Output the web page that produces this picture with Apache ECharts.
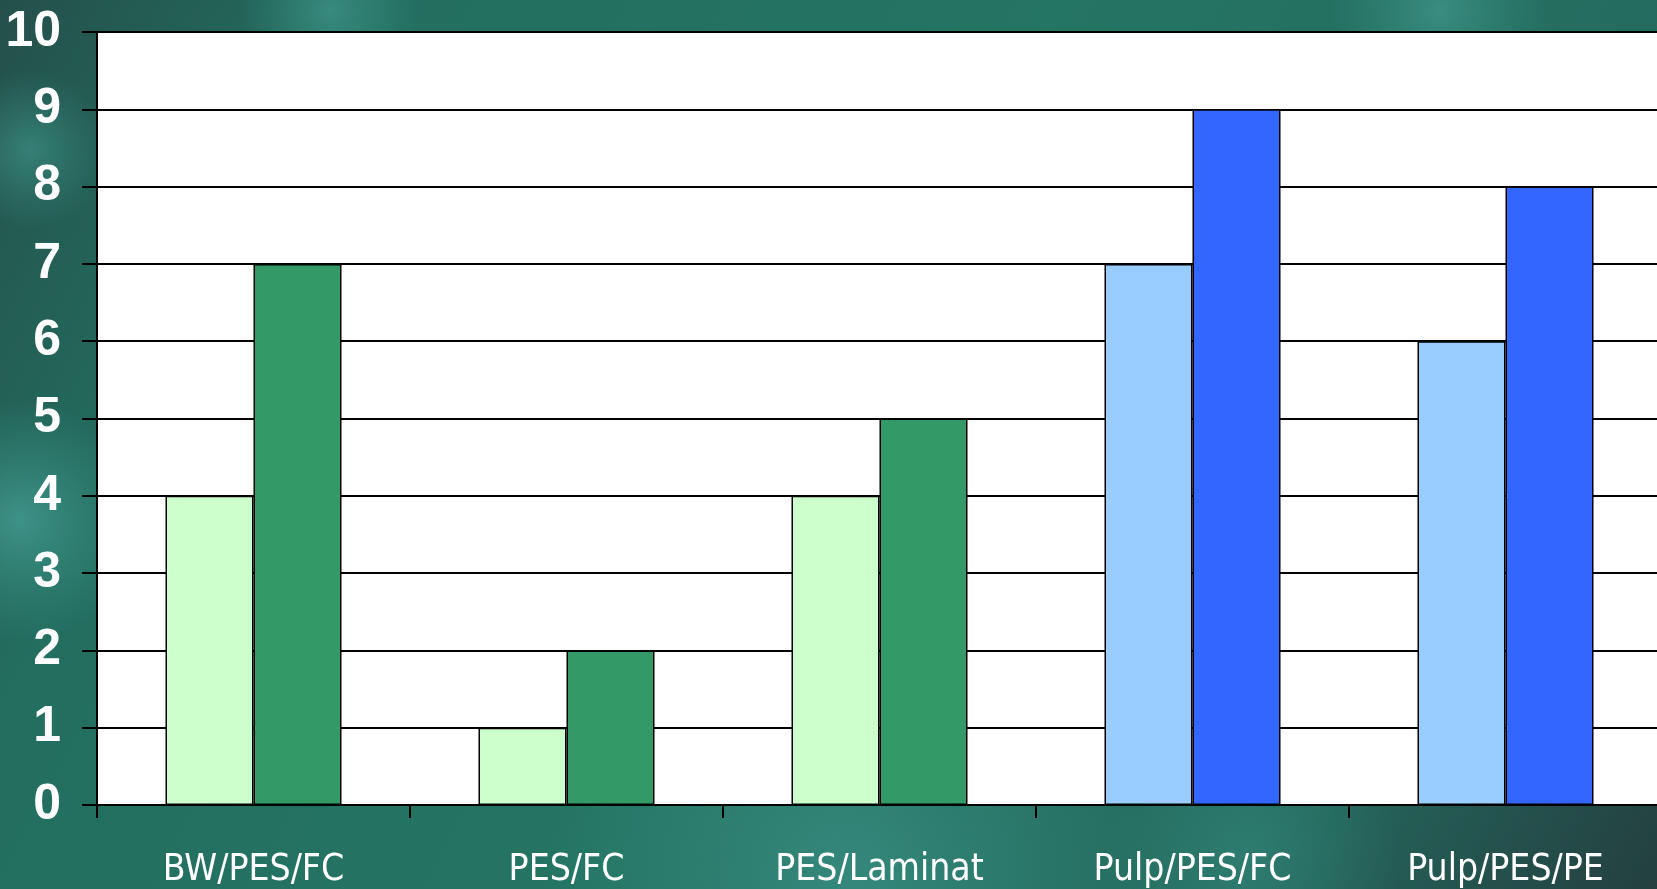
<!DOCTYPE html>
<html>
<head>
<meta charset="utf-8">
<script src="https://cdn.jsdelivr.net/npm/echarts@6/dist/echarts.min.js"></script>
<style>
  html, body { margin: 0; padding: 0; width: 100%; height: 100%; overflow: hidden; }
  #chart { width: 1657px; height: 889px; }
</style>
</head>
<body>
<div id="chart"></div>
<script>
// Material combinations and the two measured values for each
const categories = ['BW/PES/FC', 'PES/FC', 'PES/Laminat', 'Pulp/PES/FC', 'Pulp/PES/PE'];
const firstValues = [4, 1, 4, 7, 6];
const secondValues = [7, 2, 5, 9, 8];
const firstColors = ['#CCFFCC', '#CCFFCC', '#CCFFCC', '#99CCFF', '#99CCFF'];
const secondColors = ['#339966', '#339966', '#339966', '#3366FF', '#3366FF'];
const yTicks = [0, 1, 2, 3, 4, 5, 6, 7, 8, 9, 10];

const chart = echarts.init(document.getElementById('chart'));

const narrow = '"DejaVu Sans Condensed", "Liberation Sans Narrow", "Arial Narrow", sans-serif';
const boldDigits = '"Liberation Sans", Arial, sans-serif';

function coloredData(values, colors) {
  return values.map((v, i) => ({ value: v, itemStyle: { color: colors[i] } }));
}

// Soft light patches on the teal backdrop
function glow(cx, cy, r, color) {
  return {
    type: 'circle',
    z: -100,
    silent: true,
    shape: { cx: cx, cy: cy, r: r },
    style: {
      fill: {
        type: 'radial', x: 0.5, y: 0.5, r: 0.5,
        colorStops: [
          { offset: 0, color: color },
          { offset: 1, color: 'rgba(60,150,140,0)' }
        ]
      }
    }
  };
}

chart.setOption({
  animation: false,
  backgroundColor: {
    type: 'linear', x: 0, y: 0, x2: 1, y2: 1,
    colorStops: [
      { offset: 0, color: '#24504a' },
      { offset: 0.18, color: '#236e5f' },
      { offset: 0.5, color: '#257563' },
      { offset: 0.8, color: '#246b5e' },
      { offset: 1, color: '#243f40' }
    ]
  },
  graphic: [
    glow(20, 520, 120, 'rgba(70,160,150,0.75)'),
    glow(30, 150, 80, 'rgba(70,160,150,0.55)'),
    glow(330, 10, 90, 'rgba(70,160,150,0.6)'),
    glow(1440, 10, 110, 'rgba(70,160,150,0.6)'),
    glow(850, 880, 300, 'rgba(65,155,145,0.55)'),
    glow(1250, 860, 150, 'rgba(60,150,140,0.4)')
  ],
  grid: {
    left: 97, top: 32, right: -5, bottom: 84,
    outerBoundsMode: 'none',
    containLabel: false,
    show: true, backgroundColor: '#ffffff', borderWidth: 0
  },
  xAxis: {
    type: 'category',
    data: categories,
    axisLine: { lineStyle: { color: '#000', width: 2 } },
    axisTick: { show: true, length: 13, lineStyle: { color: '#000', width: 2 } },
    axisLabel: {
      color: '#ffffff', fontFamily: narrow, fontSize: 37, margin: 47,
      interval: 0
    }
  },
  yAxis: {
    type: 'value',
    min: yTicks[0], max: yTicks[yTicks.length - 1], interval: 1,
    axisLine: { show: true, lineStyle: { color: '#000', width: 2 } },
    axisTick: { show: true, length: 15, lineStyle: { color: '#000', width: 2 } },
    splitLine: { show: true, lineStyle: { color: '#000', width: 2 } },
    axisLabel: {
      color: '#ffffff', fontFamily: boldDigits, fontWeight: 'bold', fontSize: 50, margin: 36
    }
  },
  series: [
    {
      type: 'bar',
      data: coloredData(firstValues, firstColors),
      barWidth: 88,
      barGap: '0%',
      itemStyle: { borderColor: '#000', borderWidth: 1.5 }
    },
    {
      type: 'bar',
      data: coloredData(secondValues, secondColors),
      barWidth: 88,
      barGap: '0%',
      itemStyle: { borderColor: '#000', borderWidth: 1.5 }
    }
  ]
});
</script>
</body>
</html>
